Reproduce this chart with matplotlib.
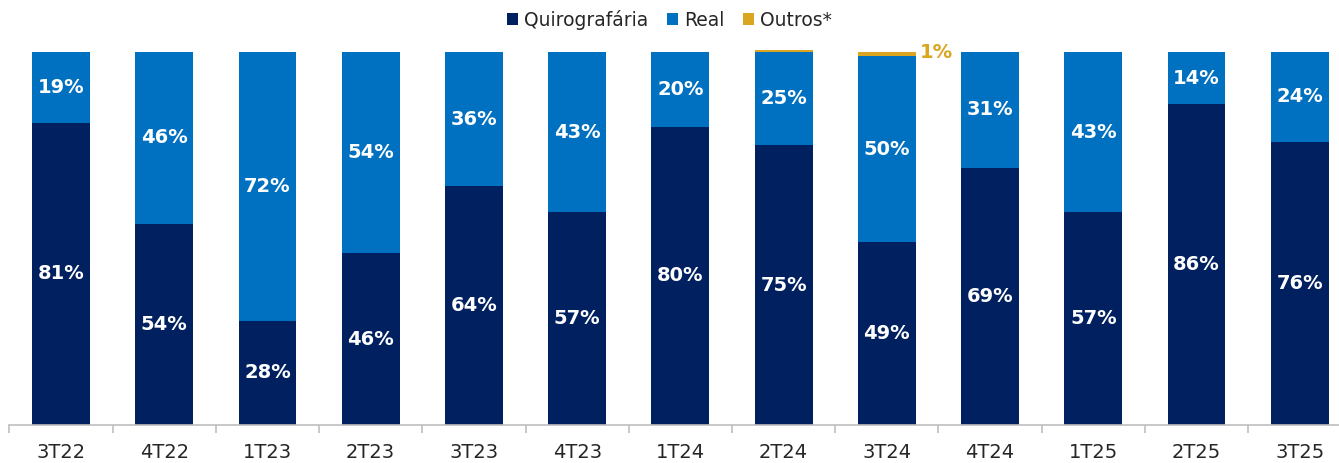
import matplotlib.pyplot as plt
import numpy as np

plt.rcParams['font.family'] = ['DejaVu Sans']

periodos = ["3T22", "4T22", "1T23", "2T23", "3T23", "4T23", "1T24",
            "2T24", "3T24", "4T24", "1T25", "2T25", "3T25"]
quirografaria = [81, 54, 28, 46, 64, 57, 80, 75, 49, 69, 57, 86, 76]
real = [19, 46, 72, 54, 36, 43, 20, 25, 50, 31, 43, 14, 24]
outros = [0, 0, 0, 0, 0, 0, 0, 0.5, 1, 0, 0, 0, 0]

c_quiro = "#00205F"
c_real = "#0070C0"
c_outros = "#DAA520"

fig = plt.figure(figsize=(13.39, 4.63), dpi=100)
ax = fig.add_axes([0.007, 0.082, 0.993, 0.8137])

x = np.arange(len(periodos))
q = np.array(quirografaria, dtype=float)
r = np.array(real, dtype=float)
o = np.array(outros, dtype=float)
w = 0.56

b1 = ax.bar(x, q, w, color=c_quiro, label="Quirografária")
b2 = ax.bar(x, r, w, bottom=q, color=c_real, label="Real")
b3 = ax.bar(x, o, w, bottom=q + r, color=c_outros, label="Outros*", clip_on=False)

for i in range(len(x)):
    ax.text(x[i], q[i] / 2, "%d%%" % q[i], ha="center", va="center",
            color="white", fontsize=14, fontweight="bold")
    ax.text(x[i], q[i] + r[i] / 2, "%d%%" % r[i], ha="center", va="center",
            color="white", fontsize=14, fontweight="bold")
    if o[i] >= 1:
        ax.text(x[i] + w / 2 + 0.04, q[i] + r[i] + o[i] - 0.2, "%d%%" % o[i],
                ha="left", va="center", color=c_outros, fontsize=14,
                fontweight="bold")

ax.set_ylim(0, 101)
ax.set_xlim(-0.5, 12.38)
ax.set_yticks([])
for s in ["top", "right", "left"]:
    ax.spines[s].set_visible(False)
ax.spines["bottom"].set_color("#BFBFBF")
ax.spines["bottom"].set_linewidth(1.2)
ax.set_xticks(x)
ax.set_xticklabels(periodos, fontsize=14, color="#262626")
ax.tick_params(axis="x", which="major", length=0, pad=13)
ax.set_xticks(np.arange(-0.5, 12.5, 1), minor=True)
ax.tick_params(axis="x", which="minor", length=6, color="#BFBFBF", width=1.2)

fig.legend(handles=[b1, b2, b3], loc="upper center", bbox_to_anchor=(0.5, 1.015),
           ncol=3, frameon=False, fontsize=13.5, handlelength=0.6,
           handleheight=0.6, handletextpad=0.3, columnspacing=1.0,
           labelcolor="#262626")

fig.savefig("out.png", dpi=100)
